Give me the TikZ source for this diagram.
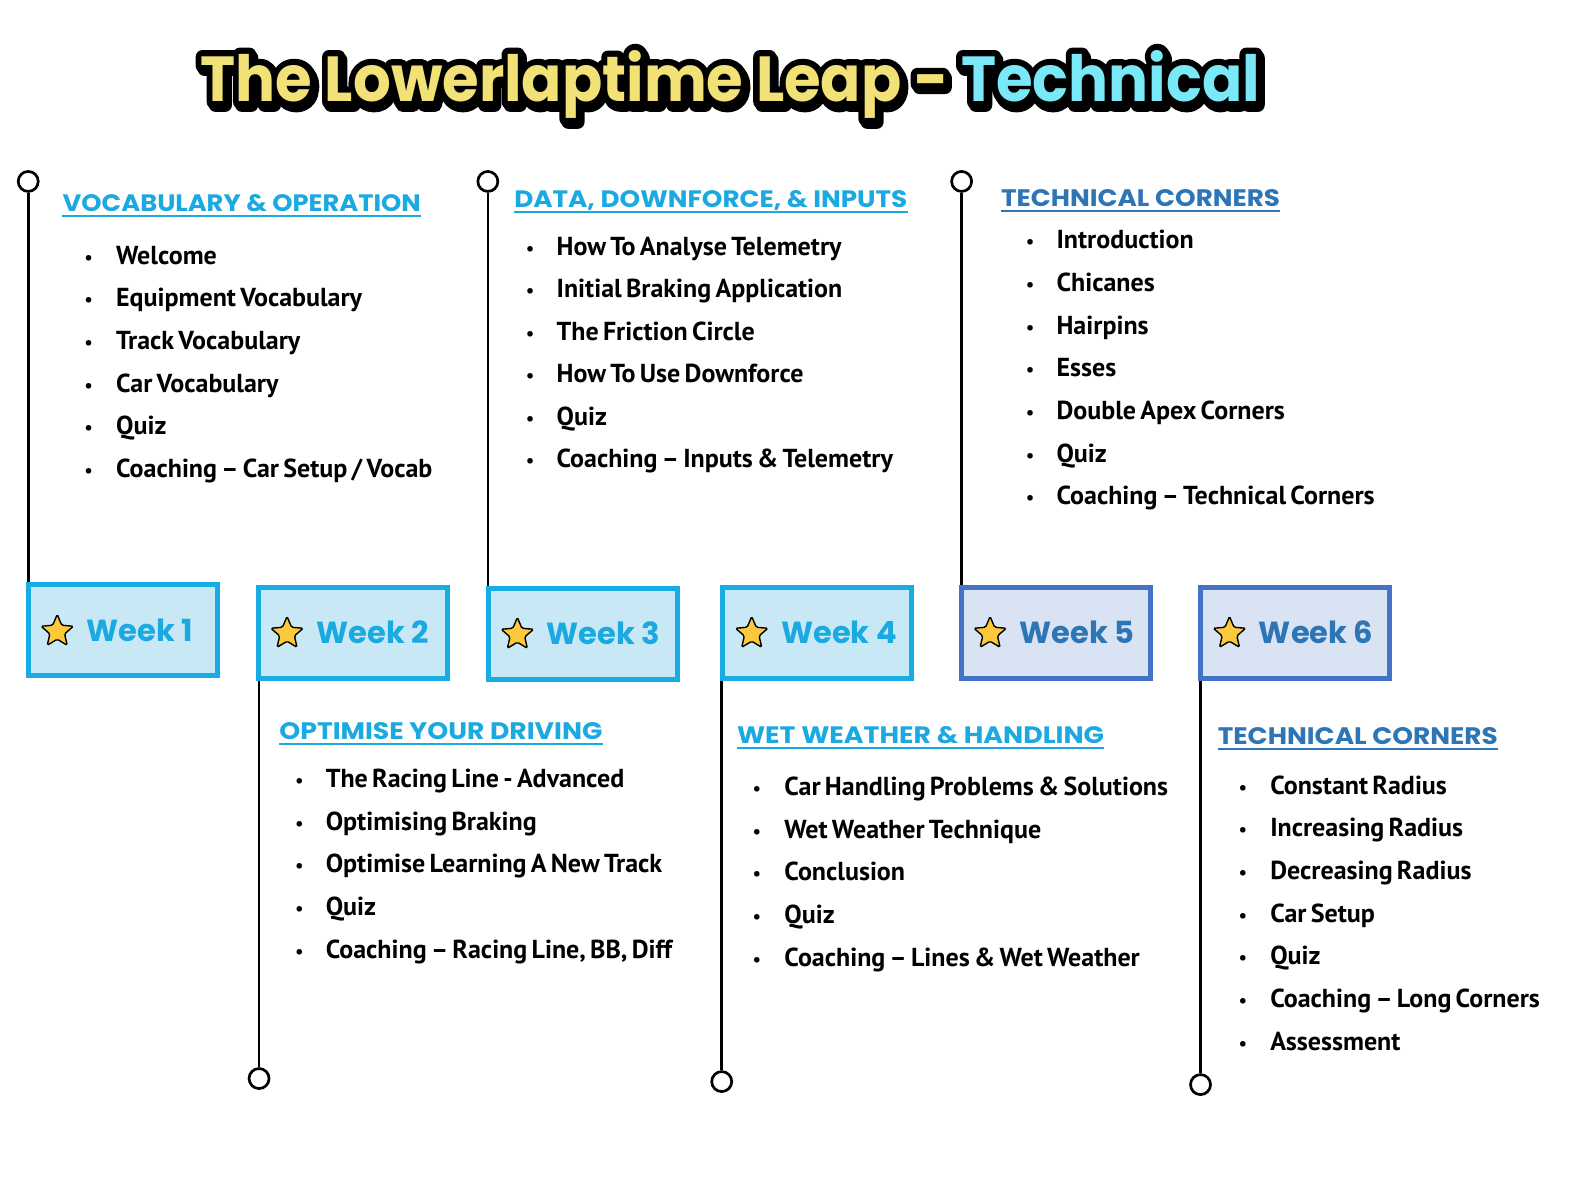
\documentclass[tikz,border=0pt]{standalone}
\usepackage{graphicx}
\usepackage{fontspec}
\setmainfont{PT Sans}[WordSpace=0.65]
\newfontfamily\headfont{Poppins}
\newfontfamily\ttlfont{Poppins}[UprightFont={* Bold}]
\newfontfamily\ttlfontO{Poppins}[UprightFont={* Bold}, FakeBold=22]
\usetikzlibrary{shapes.geometric,calc}
\definecolor{cyb}{HTML}{19ACE3}
\definecolor{cyf}{HTML}{C9E8F5}
\definecolor{cyt}{HTML}{1AA9E1}
\definecolor{blb}{HTML}{4472C4}
\definecolor{blf}{HTML}{DAE3F3}
\definecolor{blt}{HTML}{2E75B6}
\definecolor{ttly}{HTML}{F1E177}
\definecolor{ttlc}{HTML}{79E9F7}
\definecolor{stary}{HTML}{FDC83C}
\newcommand{\ttltext}[3]{\resizebox{1059pt}{51pt}{#1\fontsize{50}{50}\selectfont\color{#2}The Lowerlaptime Leap - \color{#3}Technical}}
\newcommand{\hdtext}[2]{\resizebox{#1}{17pt}{\headfont\bfseries #2}}
\begin{document}
\begin{tikzpicture}[x=1.008pt,y=-1.008pt,
  wkc/.style={draw=cyb, fill=cyf, line width=5pt, minimum width=189pt, minimum height=91pt, inner sep=0},
  wkb/.style={draw=blb, fill=blf, line width=5pt, minimum width=189pt, minimum height=91pt, inner sep=0},
  wlab/.style={anchor=west, inner sep=0, font=\headfont\bfseries\fontsize{30.5}{30}\selectfont},
  hd/.style={anchor=base west, inner sep=0},
  uline/.style={line width=2pt},
  item/.style={anchor=base west, inner sep=0, font=\bfseries\fontsize{26}{26}\selectfont},
  bul/.style={anchor=base, inner sep=0, font=\fontsize{20}{20}\selectfont},
  pin/.style={circle, draw=black, line width=2.7pt, fill=white, minimum size=20pt, inner sep=0},
  stem/.style={line width=2.7pt},
  starn/.style={star, star points=5, star point ratio=2.2, minimum size=34pt, inner sep=0, fill=stary, draw=black, line width=1.4pt, rounded corners=1.5pt},
  ttlnode/.style={anchor=base west, inner sep=0, line join=round, line cap=round}]
\useasboundingbox (0,0) rectangle (1567.5,1172.6);
\fill[white] (0,0) rectangle (1567.5,1172.6);

% title
\coordinate (tc) at (199,101);
\node[ttlnode] (tshadow) at ($(tc)+(2,3)$) {\ttltext{\ttlfontO}{black}{black}};
\node[ttlnode] (toutline) at (tc) {\ttltext{\ttlfontO}{black}{black}};
\node[ttlnode] (title) at (tc) {\ttltext{\ttlfont}{ttly}{ttlc}};

% pins
\node[pin] (p1) at (28,180) {};
\node[pin] (p3) at (484,180) {};
\node[pin] (p5) at (954,180) {};
\node[pin] (p2) at (257,1070) {};
\node[pin] (p4) at (716,1073) {};
\node[pin] (p6) at (1191,1076) {};

% week boxes
\node[wkc] (w1) at (122,625.5) {};
\node[wkc] (w2) at (350,627.5) {};
\node[wkc] (w3) at (578.5,628.5) {};
\node[wkc] (w4) at (811,627.5) {};
\node[wkb] (w5) at (1047.5,627.5) {};
\node[wkb] (w6) at (1285,627.5) {};

% stems
\draw[stem] (p1.south) -- (p1.south |- w1.north);
\draw[stem] (p3.south) -- (p3.south |- w3.north);
\draw[stem] (p5.south) -- (p5.south |- w5.north);
\draw[stem] (w2.south -| p2) -- (p2.north);
\draw[stem] (w4.south -| p4) -- (p4.north);
\draw[stem] (w6.south -| p6) -- (p6.north);

% week labels
\foreach \w/\c in {1/cyt,2/cyt,3/cyt,4/cyt,5/blt,6/blt} {
  \node[starn] (s\w) at ($(w\w.west)+(31,1)$) {};
  \node[wlab, text=\c] (l\w) at ($(w\w.west)+(60,0)$) {Week \w};
}

% headings
\node[hd, text=cyt] (h1) at (62,210) {\hdtext{358pt}{VOCABULARY \& OPERATION}};
\node[hd, text=cyt] (h3) at (510,206) {\hdtext{393pt}{DATA, DOWNFORCE, \& INPUTS}};
\node[hd, text=blt] (h5) at (993,205) {\hdtext{279pt}{TECHNICAL CORNERS}};
\node[hd, text=cyt] (h2) at (277,734) {\hdtext{323pt}{OPTIMISE YOUR DRIVING}};
\node[hd, text=cyt] (h4) at (731,738) {\hdtext{367pt}{WET WEATHER \& HANDLING}};
\node[hd, text=blt] (h6) at (1208,739) {\hdtext{280pt}{TECHNICAL CORNERS}};
\foreach \h/\c in {1/cyt,3/cyt,5/blt,2/cyt,4/cyt,6/blt} {
  \draw[uline, \c] ($(h\h.base west)+(0,4)$) -- ($(h\h.base east)+(0,4)$);
}

% lists
\foreach \t [count=\i] in {Welcome, Equipment Vocabulary, Track Vocabulary, Car Vocabulary, Quiz, {Coaching – Car Setup / Vocab}} {
  \node[bul] (ba\i) at (88,{262+42.3*(\i-1)}) {•};
  \node[item] (ia\i) at (115,{262+42.3*(\i-1)}) {\t};
}
\foreach \t [count=\i] in {How To Analyse Telemetry, Initial Braking Application, The Friction Circle, How To Use Downforce, Quiz, {Coaching – Inputs \& Telemetry}} {
  \node[bul] (bc\i) at (526,{253+42.2*(\i-1)}) {•};
  \node[item] (ic\i) at (552,{253+42.2*(\i-1)}) {\t};
}
\foreach \t [count=\i] in {Introduction, Chicanes, Hairpins, Esses, Double Apex Corners, Quiz, {Coaching – Technical Corners}} {
  \node[bul] (be\i) at (1022,{247+42.3*(\i-1)}) {•};
  \node[item] (ie\i) at (1048,{247+42.3*(\i-1)}) {\t};
}
\foreach \t [count=\i] in {The Racing Line - Advanced, Optimising Braking, Optimise Learning A New Track, Quiz, {Coaching – Racing Line, BB, Diff}} {
  \node[bul] (bb\i) at (297,{781+42.5*(\i-1)}) {•};
  \node[item] (ib\i) at (323,{781+42.5*(\i-1)}) {\t};
}
\foreach \t [count=\i] in {Car Handling Problems \& Solutions, Wet Weather Technique, Conclusion, Quiz, {Coaching – Lines \& Wet Weather}} {
  \node[bul] (bd\i) at (751,{789+42.5*(\i-1)}) {•};
  \node[item] (id\i) at (778,{789+42.5*(\i-1)}) {\t};
}
\foreach \t [count=\i] in {Constant Radius, Increasing Radius, Decreasing Radius, Car Setup, Quiz, {Coaching – Long Corners}, Assessment} {
  \node[bul] (bf\i) at (1233,{788+42.3*(\i-1)}) {•};
  \node[item] (if\i) at (1260,{788+42.3*(\i-1)}) {\t};
}
\end{tikzpicture}
\end{document}
